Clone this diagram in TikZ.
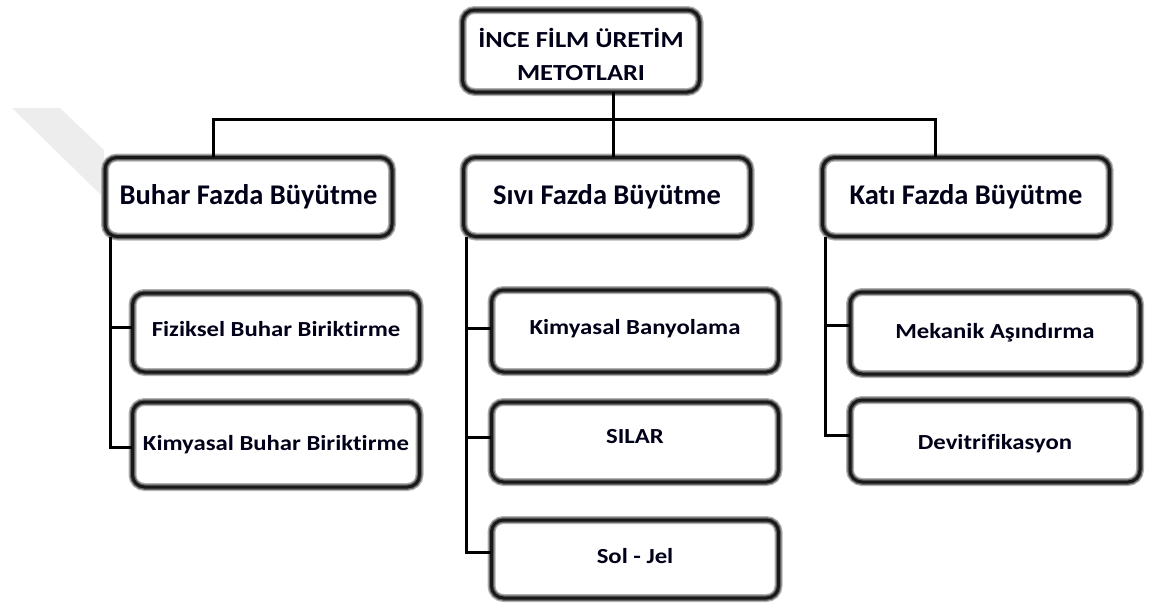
\documentclass[tikz,border=0pt]{standalone}
\usepackage{fontspec}
\setmainfont{Carlito}[Ligatures=NoCommon]
\newfontfamily\widefont{Carlito}[FakeStretch=1.15, Ligatures=NoCommon]
\begin{document}
\begin{tikzpicture}[x=1pt,y=-1pt,
  boxbase/.style={rectangle, rounded corners=12pt, fill=white, align=center,
    text=black!90!blue,
    postaction={draw=black!30, line width=8pt},
    postaction={draw=black!60, line width=5.5pt},
    postaction={draw=black!90, line width=3pt}},
  headbox/.style={boxbase, minimum width=237pt, minimum height=82pt,
    font=\widefont\bfseries\fontsize{23}{33}\selectfont},
  catbox/.style={boxbase, minimum width=287pt, minimum height=79pt,
    font=\bfseries\fontsize{28.5}{32}\selectfont},
  itembox/.style={boxbase, minimum width=287pt, minimum height=81pt,
    text height=16pt, text depth=4pt,
    font=\widefont\bfseries\fontsize{21.5}{24}\selectfont},
  lift/.style={text depth=#1},
  link/.style={draw=black, line width=3pt}
]
\useasboundingbox (0,0) rectangle (1151,608);
% faint background mark
\fill[black!7] (12,108) -- (60,108) -- (104,150) -- (104,198) -- cycle;

% connector lanes
\coordinate (bus) at (0,119);
\coordinate (lb) at (213,0);
\coordinate (lm) at (613,0);
\coordinate (lk) at (935,0);
\coordinate (vb) at (110,0);
\coordinate (vs) at (466,0);
\coordinate (vk) at (825,0);

% boxes
\node[headbox] (top) at (581,51) {\rule{0pt}{27pt}İNCE FİLM ÜRETİM\\METOTLARI};
\node[catbox] (buhar) at (248.5,197) {Buhar Fazda Büyütme};
\node[catbox] (sivi) at (607,197) {Sıvı Fazda Büyütme};
\node[catbox] (kati) at (966,197) {Katı Fazda Büyütme};

\node[itembox, minimum height=79pt, lift=9pt] (pvd) at (276,332.5) {Fiziksel Buhar Biriktirme};
\node[itembox, minimum height=85pt, lift=4pt] (cvd) at (276,444.5) {Kimyasal Buhar Biriktirme};

\node[itembox, minimum height=82pt, lift=10pt] (cbd) at (635,331) {Kimyasal Banyolama};
\node[itembox, minimum height=80pt, lift=14pt] (silar) at (635,442) {SILAR};
\node[itembox, minimum height=78pt, lift=8pt] (soljel) at (635,559) {Sol - Jel};

\node[itembox, minimum width=290pt, minimum height=82pt, lift=6pt] (mek) at (995,333) {Mekanik Aşındırma};
\node[itembox, minimum width=290pt, minimum height=82pt, lift=0pt] (devit) at (995,441) {Devitrifikasyon};

% top level links: head box down to the bus, bus out to the three groups
\draw[link] (top.south -| lm) -- (lm |- bus);
\draw[link] (buhar.north -| lb) |- (lm |- bus);
\draw[link] (sivi.north -| lm) -- (lm |- bus);
\draw[link] (kati.north -| lk) |- (lm |- bus);

% branch links (yshift is upwards on the page)
\draw[link] (buhar.south -| vb) |- ([yshift=5pt]pvd.west);
\draw[link] (buhar.south -| vb) |- ([yshift=-2.5pt]cvd.west);
\draw[link] (sivi.south -| vs) |- ([yshift=3pt]cbd.west);
\draw[link] (sivi.south -| vs) |- ([yshift=5pt]silar.west);
\draw[link] (sivi.south -| vs) |- ([yshift=7pt]soljel.west);
\draw[link] (kati.south -| vk) |- ([yshift=8pt]mek.west);
\draw[link] (kati.south -| vk) |- ([yshift=6pt]devit.west);
\end{tikzpicture}
\end{document}
